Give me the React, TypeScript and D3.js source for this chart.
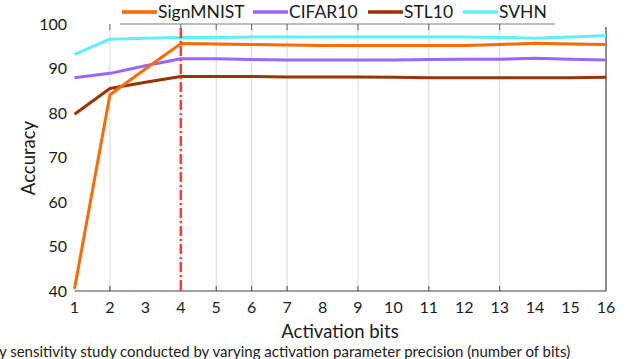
import React from "react";
import * as d3 from "d3";

const bits = [1, 2, 3, 4, 5, 6, 7, 8, 9, 10, 11, 12, 13, 14, 15, 16];
const signMNIST = [40.5, 84.2, 90.0, 95.7, 95.6, 95.5, 95.4, 95.3, 95.3, 95.3, 95.3, 95.3, 95.5, 95.8, 95.6, 95.5];
const cifar10 = [88.0, 89.0, 90.7, 92.3, 92.3, 92.1, 92.0, 92.0, 92.0, 92.0, 92.1, 92.2, 92.2, 92.4, 92.2, 92.0];
const stl10 = [79.8, 85.6, 87.0, 88.3, 88.3, 88.3, 88.2, 88.2, 88.2, 88.1, 88.0, 88.0, 88.0, 88.0, 88.0, 88.1];
const svhn = [93.3, 96.7, 96.9, 97.1, 97.1, 97.2, 97.2, 97.2, 97.2, 97.2, 97.2, 97.2, 97.1, 96.9, 97.2, 97.5];
const gridBits = [2, 4, 5, 6, 7, 9, 11, 13];
const yTicks = [40, 50, 60, 70, 80, 90, 100];
const markerBit = 4;

const seriesNames = ["SignMNIST", "CIFAR10", "STL10", "SVHN"];
const seriesValues = [signMNIST, cifar10, stl10, svhn];
const colors = ["#FF6A00", "#9966FF", "#993300", "#5EF2F7"];
const drawOrder = [3, 1, 2, 0];
const legendX = [122, 253, 368, 463];

const xTitle = "Activation bits";
const yTitle = "Accuracy";
const caption = "y sensitivity study conducted by varying activation parameter precision (number of bits)";

export default function App() {
  const x = d3.scaleLinear().domain([1, 16]).range([74.5, 606]);
  const y = d3.scaleLinear().domain([40, 100]).range([291, 24.5]);
  const font = "Lato, 'Open Sans', sans-serif";
  const line = (vals: number[]) =>
    d3
      .line<number>()
      .x((_, i) => x(bits[i]))
      .y((v) => y(v))(vals) as string;

  return (
    <svg
      width={640}
      height={359}
      style={{ position: "absolute", left: 0, top: 0, background: "#fff" }}
      fontFamily={font}
    >
      {/* gridlines */}
      {gridBits.map((b) => (
        <line key={"g" + b} x1={x(b)} x2={x(b)} y1={28} y2={y(40)} stroke="#d9d9d9" strokeWidth={1} />
      ))}
      {/* top line with ticks */}
      <line x1={120} x2={555} y1={24} y2={24} stroke="#7f7f7f" strokeWidth={1.2} />
      {gridBits
        .filter((b) => x(b) < 555)
        .map((b) => (
          <line key={"tt" + b} x1={x(b)} x2={x(b)} y1={24} y2={30} stroke="#595959" strokeWidth={1} />
        ))}
      {/* right border */}
      <line x1={x(16)} x2={x(16)} y1={27} y2={y(40)} stroke="#404040" strokeWidth={1.2} />
      {/* x axis */}
      <line x1={x(1)} x2={x(16)} y1={y(40)} y2={y(40)} stroke="#404040" strokeWidth={1.2} />
      {gridBits.map((b) => (
        <line key={"bt" + b} x1={x(b)} x2={x(b)} y1={y(40) - 5} y2={y(40)} stroke="#404040" strokeWidth={1} />
      ))}
      {bits.map((b) => (
        <text key={"xl" + b} x={x(b)} y={y(40) + 22} textAnchor="middle" fontSize={16} fill="#1a1a1a">
          {b}
        </text>
      ))}
      {yTicks.map((t) => (
        <text key={"yl" + t} x={67} y={y(t) + 5.5} textAnchor="end" fontSize={16} fill="#1a1a1a">
          {t}
        </text>
      ))}
      {/* series */}
      {drawOrder.map((i) => (
        <path
          key={seriesNames[i]}
          d={line(seriesValues[i])}
          fill="none"
          stroke={colors[i]}
          strokeWidth={3}
          strokeLinejoin="round"
        />
      ))}
      {/* red dashed marker */}
      <line
        x1={x(markerBit)}
        x2={x(markerBit)}
        y1={28}
        y2={y(40)}
        stroke="#FF3B3B"
        strokeWidth={2.5}
        strokeDasharray="10,3,2,3"
      />
      {/* legend */}
      {seriesNames.map((n, i) => (
        <g key={"lg" + n}>
          <line x1={legendX[i]} x2={legendX[i] + 35} y1={12} y2={12} stroke={colors[i]} strokeWidth={3.5} />
          <text x={legendX[i] + 36} y={18} fontSize={17.5} fill="#1a1a1a">
            {n}
          </text>
        </g>
      ))}
      {/* axis titles */}
      <text x={340} y={338} textAnchor="middle" fontSize={18.5} fill="#1a1a1a">
        {xTitle}
      </text>
      <text transform={`translate(35,158) rotate(-90)`} textAnchor="middle" fontSize={18.5} fill="#1a1a1a">
        {yTitle}
      </text>
      <text x={-1} y={357} fontSize={15} fill="#222">
        {caption}
      </text>
    </svg>
  );
}
